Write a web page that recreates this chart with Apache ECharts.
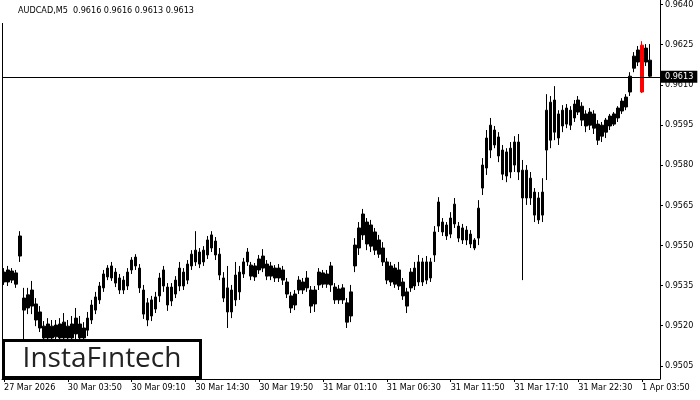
<!DOCTYPE html>
<html><head><meta charset="utf-8">
<script src="https://cdn.jsdelivr.net/npm/echarts@6/dist/echarts.min.js"></script>
<style>html,body{margin:0;padding:0;background:#fff}#c{width:700px;height:400px}</style>
</head><body><div id="c"></div>
<script>
const symbolTitle = 'AUDCAD,M5  0.9616 0.9616 0.9613 0.9613';
const watermarkText = 'InstaFıntech';
const tickLabels = ['27 Mar 2026','30 Mar 03:50','30 Mar 09:10','30 Mar 14:30','30 Mar 19:50','31 Mar 01:10','31 Mar 06:30','31 Mar 11:50','31 Mar 17:10','31 Mar 22:30','1 Apr 03:50'];
const barsPerTick = 16;
const categoryCount = 165;
const priceTicks = [0.9505,0.9520,0.9535,0.9550,0.9565,0.9580,0.9595,0.9610,0.9625,0.9640];
const priceMin = 0.950005;
const priceMax = 0.964164;
const bidPrice = 0.9613;
const redBars = [160];

const highs = [
0.95415,0.95423,0.95415,0.95408,0.95553,0.95341,0.95341,0.95367,0.95303,0.95273,
0.95217,0.95228,0.95221,0.95221,0.95228,0.95247,0.95221,0.95236,0.95266,0.95236,
0.95213,0.95251,0.95296,0.95326,0.95363,0.95408,0.95426,0.95438,0.95415,0.95393,
0.95385,0.95415,0.95456,0.95467,0.95430,0.95352,0.95303,0.95311,0.95326,0.95397,
0.95423,0.95359,0.95359,0.95385,0.95438,0.95415,0.95445,0.95482,0.95553,0.95490,
0.95497,0.95535,0.95553,0.95531,0.95490,0.95400,0.95423,0.95352,0.95438,0.95423,
0.95453,0.95490,0.95438,0.95434,0.95464,0.95486,0.95445,0.95438,0.95426,0.95430,
0.95423,0.95378,0.95326,0.95333,0.95385,0.95378,0.95404,0.95348,0.95348,0.95415,
0.95408,0.95408,0.95438,0.95359,0.95352,0.95355,0.95303,0.95352,0.95527,0.95587,
0.95636,0.95602,0.95595,0.95565,0.95539,0.95512,0.95453,0.95438,0.95430,0.95438,
0.95378,0.95341,0.95415,0.95438,0.95464,0.95453,0.95460,0.95453,0.95572,0.95680,
0.95602,0.95587,0.95624,0.95677,0.95587,0.95580,0.95572,0.95557,0.95527,0.95669,
0.95826,0.95931,0.95976,0.95946,0.95923,0.95875,0.95863,0.95886,0.95908,0.95916,
0.95819,0.95800,0.95774,0.95714,0.95699,0.95751,0.96065,0.96058,0.96095,0.96005,
0.96024,0.96028,0.96020,0.96043,0.96058,0.96035,0.96005,0.96013,0.96005,0.95968,
0.95961,0.95976,0.95991,0.95998,0.96020,0.96050,0.96065,0.96147,0.96222,0.96245,
0.96263,0.96252,0.96252
];
const bodyHigh = [
0.95400,0.95408,0.95404,0.95397,0.95535,0.95303,0.95315,0.95333,0.95281,0.95251,
0.95198,0.95206,0.95198,0.95202,0.95206,0.95213,0.95198,0.95206,0.95228,0.95206,
0.95191,0.95228,0.95277,0.95307,0.95348,0.95393,0.95415,0.95423,0.95400,0.95378,
0.95370,0.95400,0.95445,0.95456,0.95415,0.95333,0.95285,0.95296,0.95307,0.95378,
0.95408,0.95344,0.95344,0.95370,0.95415,0.95400,0.95430,0.95467,0.95482,0.95475,
0.95482,0.95520,0.95539,0.95516,0.95467,0.95378,0.95341,0.95333,0.95389,0.95400,
0.95438,0.95475,0.95426,0.95423,0.95449,0.95460,0.95430,0.95423,0.95415,0.95415,
0.95408,0.95363,0.95311,0.95318,0.95370,0.95363,0.95378,0.95333,0.95333,0.95400,
0.95397,0.95393,0.95423,0.95344,0.95337,0.95341,0.95285,0.95326,0.95501,0.95565,
0.95617,0.95587,0.95576,0.95550,0.95520,0.95490,0.95438,0.95423,0.95415,0.95408,
0.95363,0.95326,0.95400,0.95415,0.95438,0.95438,0.95438,0.95438,0.95550,0.95662,
0.95587,0.95576,0.95602,0.95654,0.95572,0.95565,0.95557,0.95542,0.95520,0.95639,
0.95800,0.95901,0.95949,0.95931,0.95905,0.95856,0.95849,0.95863,0.95886,0.95886,
0.95781,0.95781,0.95751,0.95699,0.95677,0.95699,0.96005,0.96035,0.96043,0.95991,
0.96005,0.96013,0.96005,0.96028,0.96043,0.96020,0.95991,0.95998,0.95991,0.95953,
0.95949,0.95968,0.95983,0.95991,0.96013,0.96039,0.96054,0.96132,0.96207,0.96230,
0.96248,0.96237,0.96192
];
const bodyLow = [
0.95363,0.95363,0.95370,0.95355,0.95460,0.95258,0.95266,0.95273,0.95221,0.95191,
0.95154,0.95154,0.95154,0.95158,0.95154,0.95154,0.95154,0.95154,0.95169,0.95154,
0.95154,0.95183,0.95221,0.95258,0.95296,0.95341,0.95382,0.95378,0.95359,0.95333,
0.95333,0.95348,0.95408,0.95423,0.95341,0.95243,0.95221,0.95236,0.95262,0.95311,
0.95348,0.95277,0.95292,0.95318,0.95348,0.95348,0.95370,0.95423,0.95438,0.95430,
0.95438,0.95464,0.95490,0.95464,0.95389,0.95303,0.95251,0.95251,0.95296,0.95326,
0.95393,0.95438,0.95385,0.95382,0.95408,0.95415,0.95385,0.95385,0.95378,0.95378,
0.95370,0.95318,0.95266,0.95277,0.95333,0.95333,0.95341,0.95273,0.95281,0.95352,
0.95355,0.95355,0.95352,0.95296,0.95296,0.95296,0.95213,0.95236,0.95423,0.95490,
0.95539,0.95505,0.95497,0.95482,0.95467,0.95438,0.95370,0.95363,0.95355,0.95348,
0.95311,0.95273,0.95341,0.95348,0.95363,0.95363,0.95370,0.95378,0.95464,0.95572,
0.95550,0.95535,0.95542,0.95580,0.95527,0.95520,0.95520,0.95505,0.95490,0.95527,
0.95714,0.95789,0.95856,0.95875,0.95834,0.95766,0.95759,0.95774,0.95800,0.95774,
0.95677,0.95677,0.95677,0.95613,0.95595,0.95613,0.95856,0.95893,0.95923,0.95901,
0.95946,0.95953,0.95949,0.95976,0.95998,0.95968,0.95946,0.95949,0.95938,0.95893,
0.95908,0.95923,0.95946,0.95953,0.95976,0.96002,0.96017,0.96073,0.96162,0.96185,
0.96073,0.96185,0.96132
];
const lows = [
0.95352,0.95348,0.95359,0.95341,0.95438,0.95128,0.95243,0.95243,0.95198,0.95176,
0.95128,0.95128,0.95128,0.95128,0.95128,0.95128,0.95128,0.95128,0.95146,0.95128,
0.95128,0.95161,0.95206,0.95243,0.95281,0.95326,0.95370,0.95367,0.95344,0.95318,
0.95318,0.95333,0.95393,0.95408,0.95322,0.95225,0.95198,0.95217,0.95247,0.95288,
0.95326,0.95255,0.95273,0.95303,0.95329,0.95333,0.95355,0.95408,0.95423,0.95415,
0.95423,0.95449,0.95475,0.95445,0.95370,0.95288,0.95191,0.95228,0.95273,0.95296,
0.95378,0.95423,0.95370,0.95367,0.95393,0.95400,0.95370,0.95370,0.95363,0.95363,
0.95352,0.95303,0.95247,0.95258,0.95318,0.95318,0.95326,0.95247,0.95251,0.95333,
0.95341,0.95341,0.95326,0.95281,0.95281,0.95281,0.95191,0.95213,0.95400,0.95464,
0.95520,0.95482,0.95475,0.95464,0.95453,0.95423,0.95355,0.95348,0.95341,0.95333,
0.95296,0.95247,0.95326,0.95333,0.95348,0.95348,0.95355,0.95363,0.95438,0.95550,
0.95535,0.95520,0.95527,0.95565,0.95512,0.95505,0.95501,0.95490,0.95482,0.95501,
0.95688,0.95763,0.95826,0.95863,0.95811,0.95744,0.95736,0.95751,0.95774,0.95744,
0.95370,0.95651,0.95651,0.95587,0.95580,0.95587,0.95744,0.95863,0.95893,0.95875,
0.95923,0.95938,0.95931,0.95961,0.95987,0.95946,0.95923,0.95931,0.95916,0.95875,
0.95886,0.95901,0.95931,0.95946,0.95961,0.95991,0.96005,0.96058,0.96147,0.96170,
0.96069,0.96170,0.96129
];

const FONT = '"DejaVu Sans Condensed", "DejaVu Sans", sans-serif';
const categories = Array.from({length: categoryCount}, (_, i) => String(i));
const candleData = highs.map((h, i) => {
  const item = { value: [bodyLow[i], bodyHigh[i], lows[i], h] };
  if (redBars.includes(i)) item.itemStyle = { color: '#ff0000', color0: '#ff0000', borderColor: '#ff0000', borderColor0: '#ff0000' };
  return item;
});
const isTick = (i) => i % barsPerTick === 0 && (i / barsPerTick) < tickLabels.length;

const chart = echarts.init(document.getElementById('c'), null, { renderer: 'canvas' });
chart.setOption({
  animation: false,
  backgroundColor: '#ffffff',
  grid: { left: 2, right: 40, top: 0, bottom: 21, containLabel: false },
  xAxis: {
    type: 'category', data: categories, boundaryGap: true,
    axisLine: { show: true, lineStyle: { color: '#000', width: 1 } },
    axisTick: { show: true, alignWithLabel: true, length: 3, interval: (i) => isTick(i), lineStyle: { color: '#000' } },
    axisLabel: { interval: (i) => isTick(i), formatter: (v, i) => tickLabels[i / barsPerTick] || '', align: 'left', margin: 4, color: '#000', fontSize: 9, fontFamily: FONT },
    splitLine: { show: false }
  },
  yAxis: [{
    type: 'value', position: 'right', min: priceMin, max: priceMax, scale: true,
    axisLine: { show: true, lineStyle: { color: '#000', width: 1 } },
    axisTick: { show: true, length: 3, customValues: priceTicks, lineStyle: { color: '#000' } },
    axisLabel: { customValues: priceTicks, formatter: (v) => v.toFixed(4), color: '#000', fontSize: 9, fontFamily: FONT, margin: 5 },
    splitLine: { show: false }
  }, {
    type: 'value', position: 'left', min: priceMin, max: priceMax, scale: true,
    axisLine: { show: true, lineStyle: { color: '#000', width: 1 } },
    axisTick: { show: false }, axisLabel: { show: false }, splitLine: { show: false }
  }],
  series: [{
    type: 'candlestick', yAxisIndex: 0, data: candleData, barWidth: 3,
    itemStyle: { color: '#000', color0: '#000', borderColor: '#000', borderColor0: '#000', borderWidth: 1 },
    emphasis: { disabled: true },
    markLine: {
      silent: true, symbol: ['none', 'none'], animation: false, precision: 5,
      data: [{ yAxis: bidPrice }],
      lineStyle: { color: '#000', width: 1, type: 'solid' },
      label: { show: true, position: 'end', formatter: bidPrice.toFixed(4), color: '#fff', backgroundColor: '#000', padding: [2, 4, 1, 4], fontSize: 9, fontFamily: FONT, distance: 1 },
      emphasis: { disabled: true }
    }
  }],
  graphic: [
    { type: 'rect', shape: { x: 0, y: 0, width: 215, height: 23 }, style: { fill: '#fff' }, z: 50, silent: true },
    { type: 'text', x: 18, y: 11, style: { text: symbolTitle, font: '9px ' + FONT, fill: '#000', textAlign: 'left', textVerticalAlign: 'middle' }, z: 51, silent: true },
    { type: 'rect', shape: { x: 3.5, y: 340.5, width: 197, height: 37 }, style: { fill: '#fff', stroke: '#000', lineWidth: 3 }, z: 100, silent: true },
    { type: 'text', x: 102, y: 359, style: { text: watermarkText, font: '28px "Open Sans"', fill: '#222', textAlign: 'center', textVerticalAlign: 'middle' }, z: 101, silent: true }
  ]
});
</script></body></html>
